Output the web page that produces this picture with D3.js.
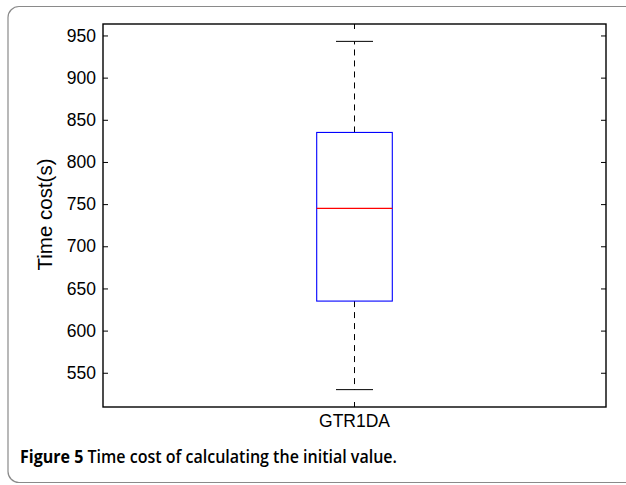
<!DOCTYPE html>
<html><head><meta charset="utf-8">
<script src="https://cdn.jsdelivr.net/npm/d3@7"></script>
<style>body{margin:0;background:#fff}svg{display:block}</style>
</head><body>
<script>
const categories = ["GTR1DA"];
const whiskerLow = [530];
const q1 = [635];
const medians = [745];
const q3 = [835];
const whiskerHigh = [943];
const yTicks = [550, 600, 650, 700, 750, 800, 850, 900, 950];
const yDomain = [509.4, 963.6];

const W = 626, H = 485;
const svg = d3.select("body").append("svg").attr("width", W).attr("height", H);

// frame
svg.append("rect").attr("x", 8).attr("y", 6.5).attr("width", 700).attr("height", 476)
  .attr("rx", 11).attr("fill", "none").attr("stroke", "#8a8a8a").attr("stroke-width", 1.2);

const L = 103, R = 606, T = 24, B = 407;
const y = d3.scaleLinear().domain(yDomain).range([B, T]);
const x = d3.scaleBand().domain(categories).range([L, R]).paddingInner(0).paddingOuter(0);
const tick = 5;

const g = svg.append("g");
// plot box
g.append("rect").attr("x", L).attr("y", T).attr("width", R - L).attr("height", B - T)
  .attr("fill", "none").attr("stroke", "#000").attr("stroke-width", 1.4);

// y ticks left (inner)
const yAxisL = d3.axisLeft(y).tickValues(yTicks).tickSize(-tick).tickPadding(7);
const gl = g.append("g").attr("transform", `translate(${L},0)`).call(yAxisL);
gl.select(".domain").remove();
gl.selectAll("text").attr("font-family", "Liberation Sans, Arial, sans-serif").attr("font-size", 17.5).attr("fill", "#000");
gl.selectAll("line").attr("stroke", "#000").attr("stroke-width", 1);
// y ticks right (inner)
const yAxisR = d3.axisRight(y).tickValues(yTicks).tickSize(-tick).tickFormat("");
const gr = g.append("g").attr("transform", `translate(${R},0)`).call(yAxisR);
gr.select(".domain").remove();
gr.selectAll("line").attr("stroke", "#000").attr("stroke-width", 1);

// x axis
const xAxisB = d3.axisBottom(x).tickSize(-tick).tickPadding(8);
const gb = g.append("g").attr("transform", `translate(0,${B})`).call(xAxisB);
gb.select(".domain").remove();
gb.selectAll("text").attr("font-family", "Liberation Sans, Arial, sans-serif").attr("font-size", 17.5).attr("fill", "#000");
gb.selectAll("line").attr("stroke", "#000").attr("stroke-width", 1);
const xAxisT = d3.axisTop(x).tickSize(-tick).tickFormat("");
const gt = g.append("g").attr("transform", `translate(0,${T})`).call(xAxisT);
gt.select(".domain").remove();
gt.selectAll("line").attr("stroke", "#000").attr("stroke-width", 1);

// boxplot
const boxW = 75.6, capW = 37;
categories.forEach((c, i) => {
  const cx = x(c) + x.bandwidth() / 2;
  g.append("line").attr("x1", cx).attr("x2", cx).attr("y1", y(q3[i])).attr("y2", y(whiskerHigh[i]))
    .attr("stroke", "#000").attr("stroke-width", 1).attr("stroke-dasharray", "6,5");
  g.append("line").attr("x1", cx).attr("x2", cx).attr("y1", y(q1[i])).attr("y2", y(whiskerLow[i]))
    .attr("stroke", "#000").attr("stroke-width", 1).attr("stroke-dasharray", "6,5");
  [whiskerHigh[i], whiskerLow[i]].forEach(v => {
    g.append("line").attr("x1", cx - capW / 2).attr("x2", cx + capW / 2).attr("y1", y(v)).attr("y2", y(v))
      .attr("stroke", "#000").attr("stroke-width", 1);
  });
  g.append("rect").attr("x", cx - boxW / 2).attr("y", y(q3[i])).attr("width", boxW)
    .attr("height", y(q1[i]) - y(q3[i])).attr("fill", "none").attr("stroke", "#0000ff").attr("stroke-width", 1.1);
  g.append("line").attr("x1", cx - boxW / 2).attr("x2", cx + boxW / 2).attr("y1", y(medians[i])).attr("y2", y(medians[i]))
    .attr("stroke", "#ff0000").attr("stroke-width", 1.1);
});

// y label
svg.append("text").attr("transform", `translate(52,${(T + B) / 2 - 1}) rotate(-90)`)
  .attr("text-anchor", "middle").attr("font-family", "Liberation Sans, Arial, sans-serif")
  .attr("font-size", 20.5).attr("fill", "#000").text("Time cost(s)");

// caption
const cap = svg.append("text").attr("x", 20).attr("y", 463)
  .attr("font-family", "Open Sans, sans-serif").attr("font-size", 17.5).attr("fill", "#000")
  .attr("textLength", 377).attr("lengthAdjust", "spacingAndGlyphs");
cap.append("tspan").attr("font-weight", 700).text("Figure 5");
cap.append("tspan").attr("font-weight", 600).text(" Time cost of calculating the initial value.");
</script>
</body></html>
